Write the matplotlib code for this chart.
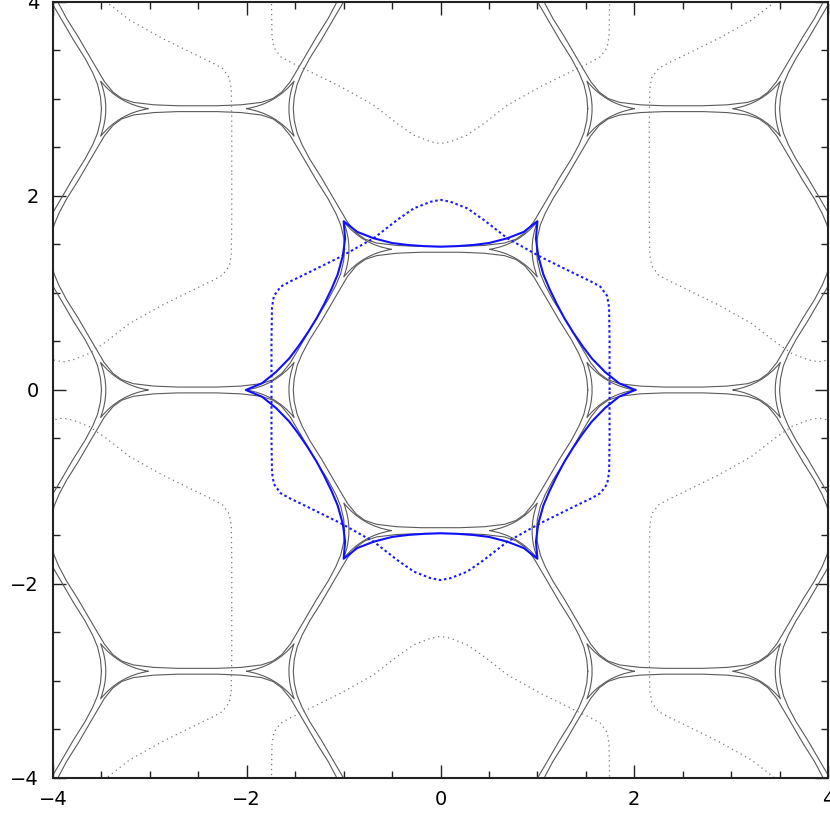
#librerias
import numpy as np
import matplotlib
matplotlib.use('Agg')
import matplotlib.pyplot as plt
from matplotlib.path import Path
from matplotlib.patches import PathPatch
from matplotlib.ticker import MultipleLocator

#datos (un cuadrante, x>=0, y>=0)
#caustica azul (6 cuspides)
caus_x = [2.01, 1.842, 1.699, 1.562, 1.465, 1.369, 1.279, 1.199, 1.125, 1.062,
          1.009, 0.985, 1.00, 0.86, 0.69, 0.50, 0.34, 0.17, 0.00]
caus_y = [0.00, 0.070, 0.185, 0.325, 0.453, 0.594, 0.739, 0.889, 1.042, 1.190,
          1.380, 1.560, 1.74, 1.63, 1.564, 1.515, 1.495, 1.483, 1.477]

#curva critica (punteada)
crit_x = [1.745, 1.745, 1.74, 1.72, 1.65, 1.55, 1.445, 1.03, 0.69, 0.447,
          0.275, 0.103, 0.00]
crit_y = [0.00, 0.50, 0.85, 0.97, 1.065, 1.12, 1.17, 1.374, 1.564, 1.753,
          1.873, 1.94, 1.96]

#centros de las curvas criticas vecinas (gris)
crit_cx = [0.0, 0.0, 3.9, 3.9, -3.9, -3.9]
crit_cy = [4.5, -4.5, 2.25, -2.25, 2.25, -2.25]

#contorno de una celda de la red de causticas gris
cell_x = [1.52, 1.51, 1.48, 1.43, 1.35, 1.23, 1.09, 0.96, 0.87, 0.78, 0.66,
          0.45, 0.20, 0.00]
cell_y = [0.00, 0.12, 0.25, 0.37, 0.52, 0.71, 0.95, 1.17, 1.28, 1.345, 1.385,
          1.41, 1.42, 1.42]

#centros de las celdas grises
cell_cx = [0, 0, 0, 2.51, 2.51, -2.51, -2.51, 2.51, 2.51, -2.51, -2.51,
           5.02, -5.02, 5.02, -5.02, 5.02, -5.02]
cell_cy = [0, 2.90, -2.90, 1.45, -1.45, 1.45, -1.45, 4.35, -4.35, 4.35, -4.35,
           0, 0, 2.90, 2.90, -2.90, -2.90]

#deltoides en los vertices (cuspides y puntos de control), apuntando a la derecha
delt_dx = [0.33, 0.0275, -0.165, -0.055, -0.165, 0.0275, 0.33]
delt_dy = [0.00, 0.048, 0.286, 0.00, -0.286, -0.048, 0.00]
delt_off = 1.675

ticks = [-4, -2, 0, 2, 4]


def cerrar(qx, qy):
    qx = np.array(qx)
    qy = np.array(qy)
    x = np.concatenate([qx, -qx[::-1], -qx, qx[::-1]])
    y = np.concatenate([qy, qy[::-1], -qy, -qy[::-1]])
    return x, y


plt.rcParams['font.family'] = 'DejaVu Sans'
fig = plt.figure(figsize=(8.3, 8.3), dpi=100)
ax = fig.add_axes([0.0639, 0.0627, 0.9337, 0.9349])

gris = '#5a5a5a'

#red de causticas gris
ox, oy = cerrar(cell_x, cell_y)
codes = [Path.MOVETO] + [Path.CURVE3] * 6
for cx, cy in zip(cell_cx, cell_cy):
    ax.plot(ox + cx, oy + cy, color=gris, lw=0.8)
    for s in [1, -1]:
        vx = [cx + s * delt_off + s * d for d in delt_dx]
        vy = [cy + d for d in delt_dy]
        p = PathPatch(Path(np.column_stack([vx, vy]), codes),
                      facecolor='none', edgecolor=gris, lw=0.8)
        ax.add_patch(p)

#curvas criticas grises
kx, ky = cerrar(crit_x, crit_y)
for cx, cy in zip(crit_cx, crit_cy):
    ax.plot(kx + cx, ky + cy, color='#777777', lw=0.9, ls=(0, (1, 3)))

#celda central en azul
ax.plot(kx, ky, color='#1a1aff', lw=1.5, ls=(0, (1.2, 1.3)), zorder=5)
bx, by = cerrar(caus_x, caus_y)
ax.plot(bx, by, color='#1010ff', lw=1.5, zorder=6)

ax.set_xlim(-4, 4)
ax.set_ylim(-4, 4)
ax.set_xticks(ticks)
ax.set_yticks(ticks)
ax.xaxis.set_minor_locator(MultipleLocator(0.5))
ax.yaxis.set_minor_locator(MultipleLocator(0.5))
ax.tick_params(which='both', direction='in', top=True, right=True,
               width=1.0, color='#222222')
ax.tick_params(which='major', length=9.5, labelsize=14)
ax.tick_params(which='minor', length=5)
ax.tick_params(axis='x', pad=9)
ax.tick_params(axis='y', pad=10)
for sp in ax.spines.values():
    sp.set_linewidth(1.5)
    sp.set_color('#222222')

plt.savefig('out.png', dpi=100)
plt.close('all')
